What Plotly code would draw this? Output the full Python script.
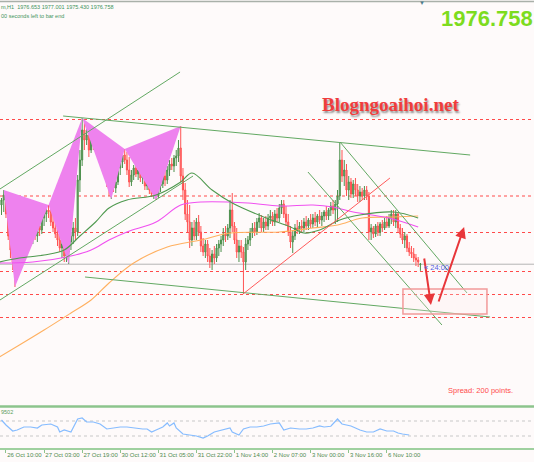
import plotly.graph_objects as go

# ---------------- data ----------------
opens = [
    1988.6, 1989.6, 1990.6, 1986.8, 1982.4, 1979.6, 1977.2, 1975.6, 1979.6, 1981.6,
    1984.0, 1985.2, 1982.0, 1983.6, 1981.6, 1983.2, 1982.4, 1984.4, 1983.6, 1986.0,
    1986.8, 1987.6, 1987.2, 1985.2, 1984.0, 1982.8, 1981.6, 1980.0, 1980.8, 1978.4,
    1979.2, 1981.2, 1982.4, 1984.0, 1983.2, 1993.6, 1997.6, 2003.6, 2001.6, 2002.6,
    1999.6, 2001.6, 2000.4, 2002.0, 1999.6, 1998.6, 1997.2, 1995.2, 1993.2, 1991.6,
    1992.8, 1992.0, 1993.2, 1996.0, 1997.2, 1998.6, 1997.6, 1995.6, 1993.2, 1994.6,
    1996.0, 1994.8, 1995.6, 1994.0, 1994.4, 1992.4, 1993.6, 1991.6, 1990.8, 1991.2,
    1990.4, 1992.4, 1992.8, 1994.4, 1993.6, 1995.6, 1996.8, 1996.4, 1998.0, 1998.4,
    2000.0, 1994.4, 1991.6, 1986.8, 1985.2, 1981.6, 1984.0, 1982.4, 1985.2, 1983.2,
    1980.4, 1979.2, 1980.8, 1978.4, 1977.2, 1978.8, 1978.0, 1980.0, 1980.8, 1981.6,
    1982.8, 1982.4, 1984.0, 1987.6, 1984.4, 1981.6, 1979.2, 1980.4, 1979.2, 1977.2,
    1980.8, 1981.6, 1983.2, 1984.0, 1983.2, 1985.2, 1986.0, 1984.0, 1985.2, 1984.4,
    1986.0, 1986.4, 1985.2, 1986.8, 1986.0, 1988.0, 1988.8, 1986.8, 1985.2, 1983.2,
    1981.2, 1982.4, 1984.0, 1983.6, 1984.4, 1984.0, 1985.2, 1984.4, 1985.6, 1984.8,
    1986.0, 1985.2, 1986.4, 1985.6, 1986.4, 1987.2, 1986.4, 1987.6, 1988.4, 1987.6,
    1988.8, 1990.4, 1997.6, 1994.4, 1995.6, 1991.6, 1993.2, 1990.8, 1992.8, 1991.6,
    1990.4, 1991.2, 1990.4, 1991.6, 1990.4, 1983.2, 1984.0, 1982.8, 1984.4, 1983.2,
    1984.8, 1984.0, 1985.2, 1984.4, 1986.0, 1986.8, 1985.2, 1986.8, 1984.0, 1982.8,
    1981.6, 1982.4, 1980.0, 1979.2, 1978.8, 1978.0, 1977.6, 1976.653,
]
highs = [
    1990.0, 1991.6, 1991.0, 1988.6, 1985.2, 1983.2, 1979.6, 1980.6, 1982.6, 1985.6,
    1988.0, 1986.6, 1984.6, 1985.2, 1984.6, 1985.6, 1985.2, 1986.0, 1987.2, 1987.6,
    1988.4, 1988.6, 1988.0, 1986.8, 1986.0, 1984.4, 1983.2, 1982.4, 1982.0, 1980.8,
    1982.0, 1983.2, 1985.2, 1986.0, 1994.6, 1999.6, 2006.0, 2005.2, 2004.0, 2003.2,
    2002.4, 2002.2, 2003.0, 2002.6, 2001.6, 2000.6, 1998.0, 1996.6, 1995.2, 1994.4,
    1994.6, 1994.0, 1997.0, 1998.0, 1999.6, 1999.8, 1999.2, 1998.2, 1995.6, 1996.6,
    1997.6, 1996.6, 1996.2, 1995.2, 1994.8, 1994.4, 1994.0, 1993.2, 1992.4, 1992.0,
    1993.0, 1993.6, 1995.2, 1995.6, 1996.4, 1997.6, 1998.0, 1998.6, 1999.6, 2001.6,
    2004.4, 1996.0, 1993.0, 1989.6, 1988.6, 1985.2, 1985.6, 1986.0, 1986.6, 1984.4,
    1982.0, 1981.6, 1981.6, 1980.0, 1979.6, 1980.4, 1980.8, 1981.6, 1982.4, 1984.0,
    1984.4, 1984.8, 1989.6, 1991.0, 1985.2, 1984.0, 1981.6, 1981.6, 1980.2, 1982.0,
    1982.4, 1984.0, 1985.0, 1985.2, 1986.0, 1987.0, 1986.6, 1986.0, 1986.4, 1986.8,
    1987.6, 1987.2, 1987.6, 1988.0, 1988.8, 1989.6, 1989.6, 1988.4, 1986.8, 1984.4,
    1983.6, 1984.8, 1985.6, 1985.2, 1985.6, 1986.0, 1986.4, 1986.0, 1986.8, 1986.8,
    1987.2, 1986.8, 1987.6, 1987.2, 1987.6, 1988.4, 1988.0, 1989.2, 1989.6, 1989.6,
    1991.6, 2001.0, 1999.6, 1997.6, 1996.8, 1994.4, 1994.0, 1993.6, 1994.0, 1992.8,
    1992.4, 1992.0, 1992.4, 1992.4, 1991.2, 1984.8, 1984.4, 1984.8, 1985.2, 1985.2,
    1985.6, 1986.0, 1986.4, 1986.8, 1987.6, 1987.6, 1987.6, 1987.2, 1984.8, 1984.0,
    1983.2, 1982.8, 1981.2, 1980.4, 1980.0, 1978.8, 1978.2, 1977.001,
]
lows = [
    1986.6, 1987.2, 1986.0, 1981.6, 1978.0, 1975.6, 1972.2, 1973.6, 1977.2, 1979.6,
    1982.0, 1980.6, 1980.0, 1980.4, 1980.8, 1981.6, 1981.2, 1982.4, 1982.8, 1984.4,
    1985.2, 1986.0, 1984.4, 1983.2, 1982.0, 1980.4, 1979.2, 1978.0, 1977.2, 1977.2,
    1976.8, 1979.6, 1980.8, 1981.6, 1982.4, 1991.2, 1996.4, 1999.6, 2000.6, 1998.2,
    1999.0, 1999.6, 1999.6, 1998.4, 1997.6, 1996.0, 1994.0, 1992.2, 1990.4, 1989.8,
    1991.2, 1991.0, 1992.6, 1994.6, 1996.0, 1996.8, 1994.6, 1992.2, 1992.4, 1993.6,
    1994.2, 1993.6, 1993.2, 1992.8, 1991.6, 1991.6, 1990.8, 1990.2, 1989.8, 1989.6,
    1990.0, 1991.2, 1992.0, 1992.4, 1992.8, 1994.4, 1995.6, 1995.2, 1996.4, 1997.2,
    1993.2, 1989.6, 1985.6, 1983.2, 1980.0, 1980.4, 1981.6, 1981.6, 1982.4, 1979.2,
    1978.4, 1978.0, 1977.2, 1976.0, 1975.6, 1976.8, 1977.2, 1978.4, 1979.2, 1980.4,
    1981.2, 1981.6, 1982.0, 1983.2, 1980.8, 1978.0, 1977.2, 1978.0, 1970.8, 1975.6,
    1979.6, 1980.4, 1982.0, 1982.4, 1982.6, 1984.0, 1983.2, 1983.2, 1983.6, 1983.6,
    1984.8, 1984.4, 1984.4, 1985.2, 1985.2, 1986.8, 1986.0, 1984.4, 1982.4, 1980.0,
    1979.0, 1981.6, 1982.8, 1982.8, 1983.2, 1983.2, 1983.6, 1983.6, 1984.0, 1984.0,
    1984.4, 1984.0, 1984.8, 1984.4, 1985.2, 1985.6, 1985.6, 1986.4, 1986.8, 1984.8,
    1985.2, 1989.6, 1993.2, 1992.4, 1990.4, 1989.6, 1990.0, 1990.0, 1990.4, 1989.2,
    1989.2, 1989.6, 1989.6, 1989.6, 1981.6, 1981.6, 1982.0, 1982.2, 1982.4, 1982.4,
    1983.2, 1983.6, 1984.0, 1984.0, 1984.8, 1984.4, 1984.0, 1983.2, 1982.0, 1980.8,
    1980.0, 1979.2, 1978.4, 1978.0, 1977.2, 1976.4, 1976.2, 1975.430,
]
closes = [
    1989.6, 1990.6, 1986.8, 1982.4, 1979.6, 1977.2, 1975.6, 1979.6, 1981.6, 1984.0,
    1985.2, 1982.0, 1983.6, 1981.6, 1983.2, 1982.4, 1984.4, 1983.6, 1986.0, 1986.8,
    1987.6, 1987.2, 1985.2, 1984.0, 1982.8, 1981.6, 1980.0, 1980.8, 1978.4, 1979.2,
    1981.2, 1982.4, 1984.0, 1983.2, 1993.6, 1997.6, 2003.6, 2001.6, 2002.6, 1999.6,
    2001.6, 2000.4, 2002.0, 1999.6, 1998.6, 1997.2, 1995.2, 1993.2, 1991.6, 1992.8,
    1992.0, 1993.2, 1996.0, 1997.2, 1998.6, 1997.6, 1995.6, 1993.2, 1994.6, 1996.0,
    1994.8, 1995.6, 1994.0, 1994.4, 1992.4, 1993.6, 1991.6, 1990.8, 1991.2, 1990.4,
    1992.4, 1992.8, 1994.4, 1993.6, 1995.6, 1996.8, 1996.4, 1998.0, 1998.4, 2000.0,
    1994.4, 1991.6, 1986.8, 1985.2, 1981.6, 1984.0, 1982.4, 1985.2, 1983.2, 1980.4,
    1979.2, 1980.8, 1978.4, 1977.2, 1978.8, 1978.0, 1980.0, 1980.8, 1981.6, 1982.8,
    1982.4, 1984.0, 1987.6, 1984.4, 1981.6, 1979.2, 1980.4, 1979.2, 1977.2, 1980.8,
    1981.6, 1983.2, 1984.0, 1983.2, 1985.2, 1986.0, 1984.0, 1985.2, 1984.4, 1986.0,
    1986.4, 1985.2, 1986.8, 1986.0, 1988.0, 1988.8, 1986.8, 1985.2, 1983.2, 1981.2,
    1982.4, 1984.0, 1983.6, 1984.4, 1984.0, 1985.2, 1984.4, 1985.6, 1984.8, 1986.0,
    1985.2, 1986.4, 1985.6, 1986.4, 1987.2, 1986.4, 1987.6, 1988.4, 1987.6, 1988.8,
    1990.4, 1997.6, 1994.4, 1995.6, 1991.6, 1993.2, 1990.8, 1992.8, 1991.6, 1990.4,
    1991.2, 1990.4, 1991.6, 1990.4, 1983.2, 1984.0, 1982.8, 1984.4, 1983.2, 1984.8,
    1984.0, 1985.2, 1984.4, 1986.0, 1986.8, 1985.2, 1986.8, 1984.0, 1982.8, 1981.6,
    1982.4, 1980.0, 1979.2, 1978.8, 1978.0, 1977.6, 1977.2, 1976.758,
]

tick_idx = [2, 19, 36, 53, 70, 87, 104, 121, 138, 155, 172]
tick_labels = ["26 Oct 10:00", "27 Oct 03:00", "27 Oct 19:00", "30 Oct 12:00",
               "31 Oct 05:00", "31 Oct 22:00", "1 Nov 14:00", "2 Nov 07:00",
               "3 Nov 00:00", "3 Nov 16:00", "6 Nov 10:00"]

# moving averages (sampled points: bar index, price)
ma_green_x = [-1, 8, 19, 28, 35, 42, 48, 56, 69, 80, 85, 94, 103, 117, 129, 135, 142, 151, 160, 175, 186]
ma_green_y = [1977.2, 1978.0, 1978.6, 1979.6, 1982.4, 1985.2, 1988.0, 1989.6, 1990.6, 1993.2, 1995.0,
              1991.6, 1989.0, 1986.2, 1984.2, 1983.0, 1983.6, 1985.6, 1986.6, 1987.2, 1986.0]
ma_magenta_x = [-1, 14, 29, 40, 48, 56, 69, 80, 89, 110, 124, 139, 148, 157, 173, 186]
ma_magenta_y = [1977.0, 1977.2, 1978.2, 1979.6, 1981.6, 1983.2, 1985.2, 1988.6, 1989.2, 1989.0,
                1988.4, 1988.6, 1988.2, 1987.2, 1986.0, 1984.2]
ma_orange_x = [-1, 8, 19, 31, 40, 48, 59, 74, 89, 102, 124, 139, 150, 161, 175, 186]
ma_orange_y = [1958.2, 1960.6, 1963.6, 1967.0, 1969.6, 1973.0, 1977.0, 1980.2, 1981.6, 1983.0,
               1983.2, 1984.0, 1984.6, 1986.0, 1986.2, 1986.4]

# indicator (sub window)
ind_x = [0, 2, 5, 7, 10, 13, 16, 18, 22, 25, 26, 28, 31, 32, 34, 36, 38, 41, 44, 47, 50, 53, 56, 59,
         63, 65, 67, 69, 72, 74, 75, 77, 78, 81, 84, 87, 90, 92, 95, 99, 102, 103, 106, 108, 111,
         114, 117, 120, 123, 124, 126, 129, 133, 136, 139, 142, 144, 147, 150, 152, 156, 158, 160,
         163, 166, 169, 172, 175, 177, 179, 182]
ind_y = [72.7, 59.3, 43.3, 46.0, 54.0, 54.0, 51.3, 59.3, 62.0, 54.0, 40.7, 46.0, 40.7, 51.3, 75.3,
         78.0, 67.3, 67.3, 62.0, 48.7, 51.3, 54.0, 54.0, 51.3, 48.7, 48.7, 40.7, 46.0, 54.0, 64.7,
         56.7, 64.7, 51.3, 35.3, 32.7, 30.0, 24.7, 30.0, 40.7, 46.0, 51.3, 40.7, 32.7, 48.7, 54.0,
         54.0, 56.7, 62.0, 64.7, 64.7, 46.0, 51.3, 48.7, 48.7, 51.3, 56.7, 54.0, 56.0, 75.3, 62.0,
         56.7, 51.3, 46.0, 40.7, 40.7, 48.7, 43.3, 43.3, 38.0, 35.3, 32.7]
ind_levels = [70, 30]

# horizontal levels and objects
levels = [2005.7, 1990.4, 1983.1, 1975.3, 1970.7, 1966.1]
pattern1 = [(1, "H"), (6, "L"), (21, "H"), (30, "L"), (36, "H")]
pattern2 = [(36, "H"), (49, "L"), (55, "H"), (69, "L"), (80, "H")]
green_lines = {
    "channel_up": ([-0.7, 79.7], [1991.8, 2015.2]),
    "channel_dn": ([-0.7, 85.5], [1969.6, 1994.4]),
    "top_desc": ([27.5, 209.2], [2006.4, 1998.6]),
    "bot_desc": ([37.3, 218.1], [1974.2, 1966.2]),
    "steep1": ([151.1, 207.8], [2001.2, 1971.0]),
    "steep2": ([136.8, 196.6], [1995.2, 1964.6]),
}
red_line = ([107.8, 173.4], [1970.8, 1994.0])
box_x = [179.2, 216.7]
box_y = [1966.8, 1971.8]
arrows = [((188.6, 1978.2), (191.7, 1968.6)), ((194.9, 1969.0), (206.5, 1984.2))]

# ---------------- figure ----------------
BG = "#fefafa"
XR = [-0.67, 237.7]
idx = list(range(len(closes)))

fig = go.Figure()


def pt(i, kind):
    return (i, highs[i] if kind == "H" else lows[i])


for pat in (pattern1, pattern2):
    pts = [pt(i, k) for i, k in pat]
    for tri in (pts[0:3], pts[2:5]):
        fig.add_trace(go.Scatter(
            x=[p[0] for p in tri] + [tri[0][0]], y=[p[1] for p in tri] + [tri[0][1]],
            fill="toself", fillcolor="#ee82ee", line=dict(width=0), mode="lines",
            hoverinfo="skip", xaxis="x", yaxis="y"))

fig.add_trace(go.Candlestick(
    x=idx, open=opens, high=highs, low=lows, close=closes,
    increasing=dict(line=dict(color="#4c8f4c", width=1), fillcolor="#74ad74"),
    decreasing=dict(line=dict(color="#ff5252", width=1), fillcolor="#ff8585"),
    whiskerwidth=0, hoverinfo="skip", xaxis="x", yaxis="y"))

for xs, ys, col in ((ma_orange_x, ma_orange_y, "#ffb060"),
                    (ma_magenta_x, ma_magenta_y, "#f050f0"),
                    (ma_green_x, ma_green_y, "#4f994f")):
    fig.add_trace(go.Scatter(x=xs, y=ys, mode="lines", line=dict(color=col, width=1.1, shape="spline"),
                             hoverinfo="skip", xaxis="x", yaxis="y"))

for name, (xs, ys) in green_lines.items():
    fig.add_trace(go.Scatter(x=xs, y=ys, mode="lines", line=dict(color="#62a862", width=1),
                             hoverinfo="skip", xaxis="x", yaxis="y"))
fig.add_trace(go.Scatter(x=red_line[0], y=red_line[1], mode="lines",
                         line=dict(color="#ff5a5a", width=1), hoverinfo="skip", xaxis="x", yaxis="y"))

fig.add_trace(go.Scatter(x=ind_x, y=ind_y, mode="lines", line=dict(color="#86bcff", width=1.2),
                         hoverinfo="skip", xaxis="x2", yaxis="y2"))

shapes = []
for lv in levels:
    shapes.append(dict(type="line", xref="x domain", yref="y", x0=0, x1=1, y0=lv, y1=lv,
                       line=dict(color="#ff4a4a", width=1, dash="3px,3px"), layer="below"))
shapes.append(dict(type="line", xref="x domain", yref="y", x0=0, x1=1, y0=closes[-1], y1=closes[-1],
                   line=dict(color="#b4b4b4", width=1), layer="below"))
for lv in ind_levels:
    shapes.append(dict(type="line", xref="x2 domain", yref="y2", x0=0, x1=1, y0=lv, y1=lv,
                       line=dict(color="#c8c8c8", width=1, dash="dot"), layer="below"))
shapes.append(dict(type="rect", xref="x", yref="y", x0=box_x[0], x1=box_x[1], y0=box_y[0], y1=box_y[1],
                   line=dict(color="#f29a9a", width=1.5), fillcolor="rgba(255,235,235,0.25)"))
shapes.append(dict(type="line", xref="paper", yref="paper", x0=0, x1=1, y0=1 - 406.5 / 462, y1=1 - 406.5 / 462,
                   line=dict(color="#8cc48c", width=2.5)))
shapes.append(dict(type="line", xref="paper", yref="paper", x0=0, x1=1, y0=1 - 1.5 / 462, y1=1 - 1.5 / 462,
                   line=dict(color="#a9b0a9", width=1.5)))

ann = []
for (tx, ty), (hx, hy) in arrows:
    ann.append(dict(x=hx, y=hy, ax=tx, ay=ty, xref="x", yref="y", axref="x", ayref="y", text="",
                    showarrow=True, arrowhead=2, arrowsize=1.1, arrowwidth=2, arrowcolor="#e8363a"))


def txt(s, x, y, size, color, xanchor="left", **font):
    f = dict(family="Liberation Sans", size=size, color=color)
    f.update(font)
    ann.append(dict(text=s, x=x / 534, y=1 - y / 462, xref="paper", yref="paper", showarrow=False,
                    xanchor=xanchor, yanchor="middle", font=f, borderpad=0))


txt("m,H1  %.3f %.3f %.3f %.3f" % (opens[-1], highs[-1], lows[-1], closes[-1]), 0, 7, 5.5, "#3f945c")
txt("00 seconds left to bar end", 0, 15.5, 5.5, "#3f945c")
txt("%.3f" % closes[-1], 534, 18, 22, "#7ddc1e", xanchor="right", weight="bold")
txt("Blogngoaihoi.net", 390, 104, 19, "#f03c3c", xanchor="center", family="Liberation Serif",
    weight="bold", shadow="1px 2px 2px rgba(0,0,0,0.45)")
txt("Spread: 200 points.", 447, 390, 7.5, "#ff4c4c")
txt("9502", 0, 412, 5.5, "#5a9a5a")
txt("\u00ab 24:00", 423, 267.5, 7.5, "#5060e0")
txt("\u25bc", 421.5, 3.5, 6, "#4e7e8e", xanchor="center")

fig.update_layout(
    width=534, height=462, margin=dict(l=0, r=0, t=0, b=0, autoexpand=False),
    paper_bgcolor=BG, plot_bgcolor=BG, showlegend=False,
    xaxis=dict(domain=[0, 1], range=XR, anchor="y", visible=False, rangeslider=dict(visible=False),
               automargin=False),
    yaxis=dict(domain=[1 - 405 / 462, 1 - 3 / 462], range=[1948.6, 2029.0], visible=False,
               automargin=False),
    xaxis2=dict(domain=[0, 1], range=XR, anchor="y2", tickvals=tick_idx, ticktext=tick_labels,
                ticks="outside", ticklen=3, tickcolor="#8cc48c", tickwidth=1, tickangle=0,
                showline=True, linecolor="#9fd09f", linewidth=1.5, automargin=False,
                ticklabelposition="outside right", showgrid=False, zeroline=False,
                tickfont=dict(family="Liberation Sans", size=6, color="#4f8a4f")),
    yaxis2=dict(domain=[1 - 448 / 462, 1 - 409 / 462], range=[-2, 102], visible=False,
                automargin=False),
    shapes=shapes, annotations=ann,
)

fig.write_html("out.html", config={"displayModeBar": False},
               post_script="document.body.style.margin='0';document.body.style.padding='0';"
                           "document.body.style.background='" + BG + "';")
